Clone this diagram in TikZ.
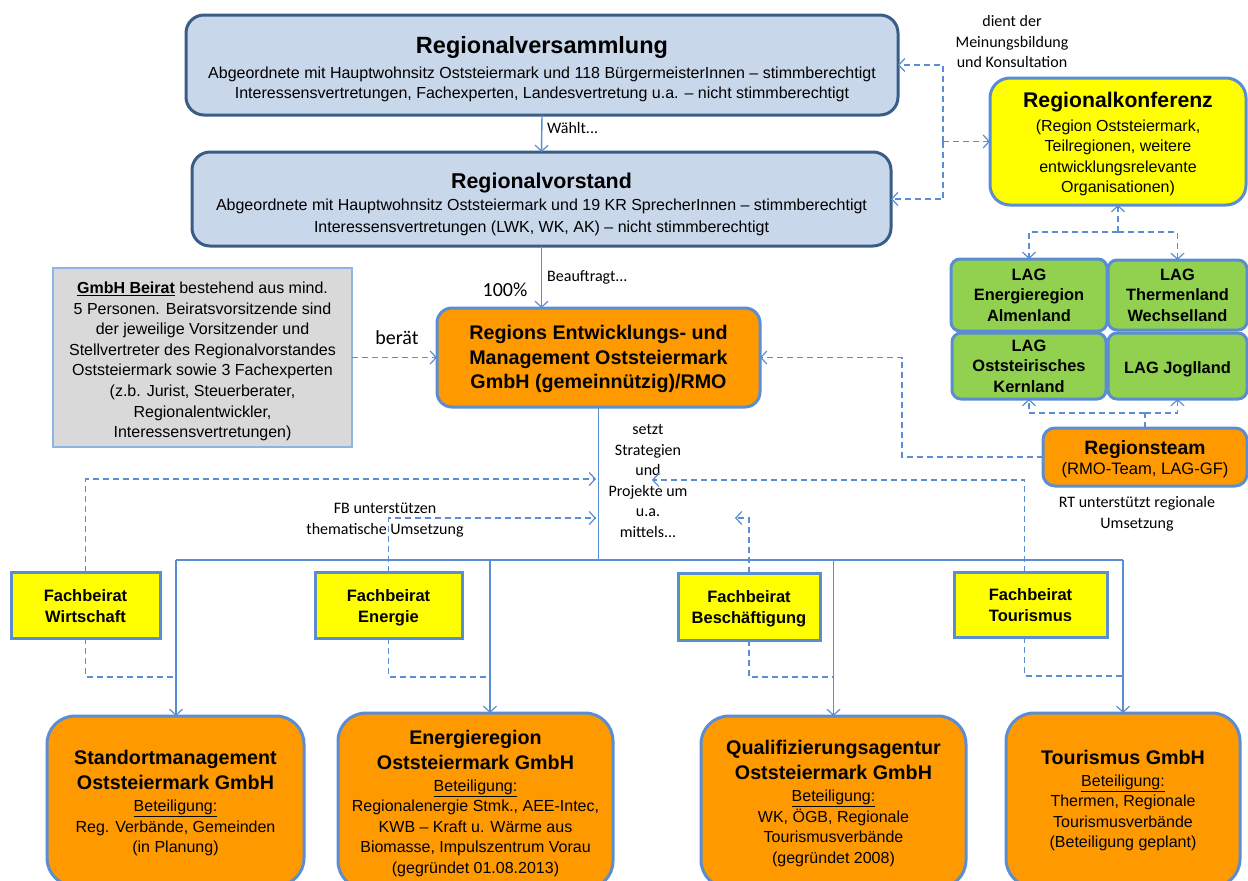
\documentclass[tikz,border=0pt]{standalone}
\usepackage{fontspec}
\setmainfont{Liberation Sans}
\newfontfamily\calfont{Carlito}
\usetikzlibrary{arrows.meta,calc}
\definecolor{rvfill}{HTML}{C9D7EA}
\definecolor{rvdraw}{HTML}{3A5D87}
\definecolor{bl}{HTML}{5B8DD3}
\definecolor{lbl}{HTML}{8EB4E3}
\definecolor{org}{HTML}{FF9900}
\definecolor{grn}{HTML}{92D050}
\definecolor{yel}{HTML}{FFFF00}
\definecolor{gry}{HTML}{D9D9D9}
\newcommand\fs[2]{\fontsize{#1}{#2}\selectfont}
\newcommand\tp[1]{\rule{0pt}{#1pt}}
\begin{document}
\begin{tikzpicture}[x=1pt,y=-1pt,
  boxbase/.style={align=center,inner sep=0pt,outer sep=0pt,line width=3pt},
  rvbox/.style={boxbase,draw=rvdraw,fill=rvfill,rounded corners=18pt},
  obox/.style={boxbase,draw=bl,fill=org,rounded corners=15pt},
  bigbox/.style={boxbase,draw=bl,fill=org,rounded corners=28pt,font=\fs{16}{20.5}},
  ybox/.style={boxbase,draw=bl,fill=yel,rounded corners=20pt},
  gbox/.style={boxbase,draw=bl,fill=grn,rounded corners=9pt,font=\fs{16.4}{20.5}\bfseries},
  fbox/.style={boxbase,draw=bl,fill=yel,font=\fs{16.5}{21}\bfseries},
  beiratbox/.style={boxbase,draw=lbl,fill=gry,line width=1.2pt,font=\fs{16}{20.6}},
  conn/.style={draw=bl,line width=1.4pt},
  dconn/.style={draw=bl,line width=1.4pt,dash pattern=on 6pt off 4pt},
  arr/.style={-{Straight Barb[length=6pt,width=13pt,line width=1.2pt]}},
  lab/.style={inner sep=0pt,align=center,font=\calfont\fs{16}{20.5}},
]
\useasboundingbox (0,0) rectangle (1248,881);
\clip (0,0) rectangle (1248,881);
\fill[white] (0,0) rectangle (1248,881);

% top boxes
\node[rvbox,font=\fs{16}{19.5},minimum width=712,minimum height=100] (rv) at (542,65)
 {\tp{25}{\fs{23.5}{27}\bfseries Regionalversammlung}\\[5.5pt]
  Abgeordnete mit Hauptwohnsitz  Oststeiermark und 118 BürgermeisterInnen – stimmberechtigt\\
  Interessensvertretungen, Fachexperten, Landesvertretung u.a.  – nicht stimmberechtigt};
\node[rvbox,font=\fs{16}{22},minimum width=699,minimum height=94] (rvst) at (541.5,199)
 {\tp{26.6}{\fs{21.4}{26}\bfseries Regionalvorstand}\\[0.5pt]
  Abgeordnete mit Hauptwohnsitz  Oststeiermark und 19 KR SprecherInnen – stimmberechtigt\\
  Interessensvertretungen (LWK, WK, AK) – nicht stimmberechtigt};

\node[obox,font=\fs{19.7}{24.5}\bfseries,minimum width=323,minimum height=99] (rmo) at (598.5,357.5)
 {\tp{17.4}Regions Entwicklungs- und\\
  Management Oststeiermark\\
  GmbH (gemeinnützig)/RMO};

\node[beiratbox,minimum width=299,minimum height=179] (beirat) at (202.5,357.5)
 {\tp{19.7}\underline{\textbf{GmbH Beirat}} bestehend aus mind.\\
  5 Personen. Beiratsvorsitzende sind\\
  der jeweilige Vorsitzender und\\
  Stellvertreter des Regionalvorstandes\\
  Oststeiermark sowie 3 Fachexperten\\
  (z.b.  Jurist, Steuerberater,\\
  Regionalentwickler,\\
  Interessensvertretungen)};

\node[ybox,font=\fs{16}{20.5},minimum width=256,minimum height=127] (rk) at (1118,141.5)
 {\tp{20.5}{\fs{21.2}{25}\bfseries Regionalkonferenz}\\[3pt]
  (Region Oststeiermark,\\
  Teilregionen, weitere\\
  entwicklungsrelevante\\
  Organisationen)};

\node[gbox,minimum width=156,minimum height=72] (lag1) at (1029,295)
 {LAG\\ Energieregion\\ Almenland};
\node[gbox,minimum width=139,minimum height=70] (lag2) at (1177.5,295)
 {LAG\\ Thermenland\\ Wechselland};
\node[gbox,minimum width=154,minimum height=66] (lag3) at (1029,366)
 {LAG\\ Oststeirisches\\ Kernland};
\node[gbox,minimum width=139,minimum height=66] (lag4) at (1177.5,366)
 {\tp{18}LAG Joglland};

\node[obox,font=\fs{16.6}{20},rounded corners=12pt,minimum width=204,minimum height=58] (rt) at (1145,457)
 {\tp{19.1}{\fs{19.3}{22}\bfseries Regionsteam}\\ (RMO-Team, LAG-GF)};

% Fachbeirat boxes
\node[fbox,minimum width=149,minimum height=66] (fw) at (85.5,605)
 {\tp{19.7}Fachbeirat\\ \strut Wirtschaft};
\node[fbox,minimum width=147,minimum height=66] (fe) at (388.5,605)
 {\tp{20.2}Fachbeirat\\ \strut Energie};
\node[fbox,minimum width=142,minimum height=67] (fb) at (749,606.5)
 {\tp{20.2}Fachbeirat\\ \strut Beschäftigung};
\node[fbox,minimum width=153,minimum height=65] (ft) at (1030.5,604.5)
 {\tp{19.7}Fachbeirat\\ \strut Tourismus};

% bottom boxes
\node[bigbox,minimum width=257,minimum height=170] (sm) at (175.5,801)
 {\tp{18.4}{\fs{19.7}{25}\bfseries Standortmanagement}\\[4.5pt]
  {\fs{19.7}{25}\bfseries Oststeiermark GmbH}\\[1.5pt]
  \underline{Beteiligung:}\\ Reg. Verbände, Gemeinden\\ (in Planung)};
\node[bigbox,minimum width=275,minimum height=176] (er) at (475.5,801)
 {\tp{18.4}{\fs{19.7}{25}\bfseries Energieregion}\\[4.5pt]
  {\fs{19.7}{25}\bfseries Oststeiermark GmbH}\\[1.5pt]
  \underline{Beteiligung:}\\ Regionalenergie Stmk., AEE-Intec,\\
  KWB – Kraft u.  Wärme aus\\ Biomasse, Impulszentrum Vorau\\
  (gegründet 01.08.2013)};
\node[bigbox,minimum width=265,minimum height=172] (qa) at (833.5,802)
 {\tp{17.4}{\fs{19.7}{25}\bfseries Qualifizierungsagentur}\\[4.5pt]
  {\fs{19.7}{25}\bfseries Oststeiermark GmbH}\\[1.5pt]
  \underline{Beteiligung:}\\ WK, ÖGB, Regionale\\
  Tourismusverbände\\ (gegründet 2008)};
\node[bigbox,minimum width=234,minimum height=174] (tg) at (1123,800)
 {\tp{15.5}{\fs{19.7}{25}\bfseries Tourismus GmbH}\\[1.5pt]
  \underline{Beteiligung:}\\ Thermen, Regionale\\
  Tourismusverbände\\ (Beteiligung geplant)};

% labels
\node[lab,anchor=west] (lwaehlt) at (547,128) {Wählt...};
\node[lab,anchor=west] (lbeauf) at (547,277) {Beauftragt...};
\node[lab,font=\calfont\fs{20}{24}] (l100) at (505,290) {100\%};
\node[lab,font=\calfont\fs{20}{24}] (lberaet) at (397,338) {berät};
\node[lab] (ldient) at (1012,42) {dient der\\Meinungsbildung\\und Konsultation};
\node[lab] (lfb) at (385,520) {FB unterstützen\\thematische  Umsetzung};
\node[lab] (lsetzt) at (648,481) {setzt\\Strategien\\und\\Projekte um\\u.a.\\mittels...};
\node[lab] (lrt) at (1137,514) {RT unterstützt regionale\\Umsetzung};

% coordinates
\coordinate (j1) at (943,141.5);
\coordinate (j2) at (1118,232);
\coordinate (j3) at (1145,413);
\coordinate (j4) at (902,457);
\coordinate (trunk) at (598.5,560);
\coordinate (b1) at (176,560);
\coordinate (b2) at (490,560);
\coordinate (b3) at (833.5,560);
\coordinate (b4) at (1123,560);
\coordinate (aW) at (596,479);
\coordinate (aE) at (596,518);
\coordinate (aB) at (735,518);
\coordinate (aT) at (652,480);

% solid connectors
\draw[conn,arr] (rv.south) -- (rvst.north);
\draw[conn,arr] (rvst.south) -- (rvst.south |- rmo.north);
\draw[conn] (rmo.south) -- (trunk);
\draw[conn] (b1) -- (b4);
\draw[conn,arr] (b1) -- (b1 |- sm.north);
\draw[conn,arr] (b2) -- (b2 |- er.north);
\draw[conn,arr] (b3) -- (b3 |- qa.north);
\draw[conn,arr] (b4) -- (b4 |- tg.north);

% dashed connectors
\draw[dconn,arr] (beirat.east) -- (rmo.west);
\draw[dconn,arr] (j1) -- (rk.west);
\draw[dconn,arr] (j1) |- (rv.east);
\draw[dconn,arr] (j1) |- (rvst.east);
\draw[dconn,arr] (j2) -- (j2 |- rk.south);
\draw[dconn,arr] (j2) -| (lag1.north);
\draw[dconn,arr] (j2) -| (lag2.north);
\draw[dconn] (rt.north) -- (j3);
\draw[dconn,arr] (j3) -| (lag3.south);
\draw[dconn,arr] (j3) -| (lag4.south);
\draw[dconn,arr] (rt.west) -- (j4) |- (rmo.east);
\draw[dconn,arr] (fw.north) |- (aW);
\draw[dconn,arr] (fe.north) |- (aE);
\draw[dconn,arr] (fb.north) |- (aB);
\draw[dconn,arr] ($(ft.north)+(-6,0)$) |- (aT);
\draw[dconn] (fw.south) |- (b1 |- 0,677);
\draw[dconn] (fe.south) |- (b2 |- 0,677);
\draw[dconn] (fb.south) |- (b3 |- 0,677);
\draw[dconn] ($(ft.south)+(-6,0)$) |- (b4 |- 0,676);
\end{tikzpicture}
\end{document}
